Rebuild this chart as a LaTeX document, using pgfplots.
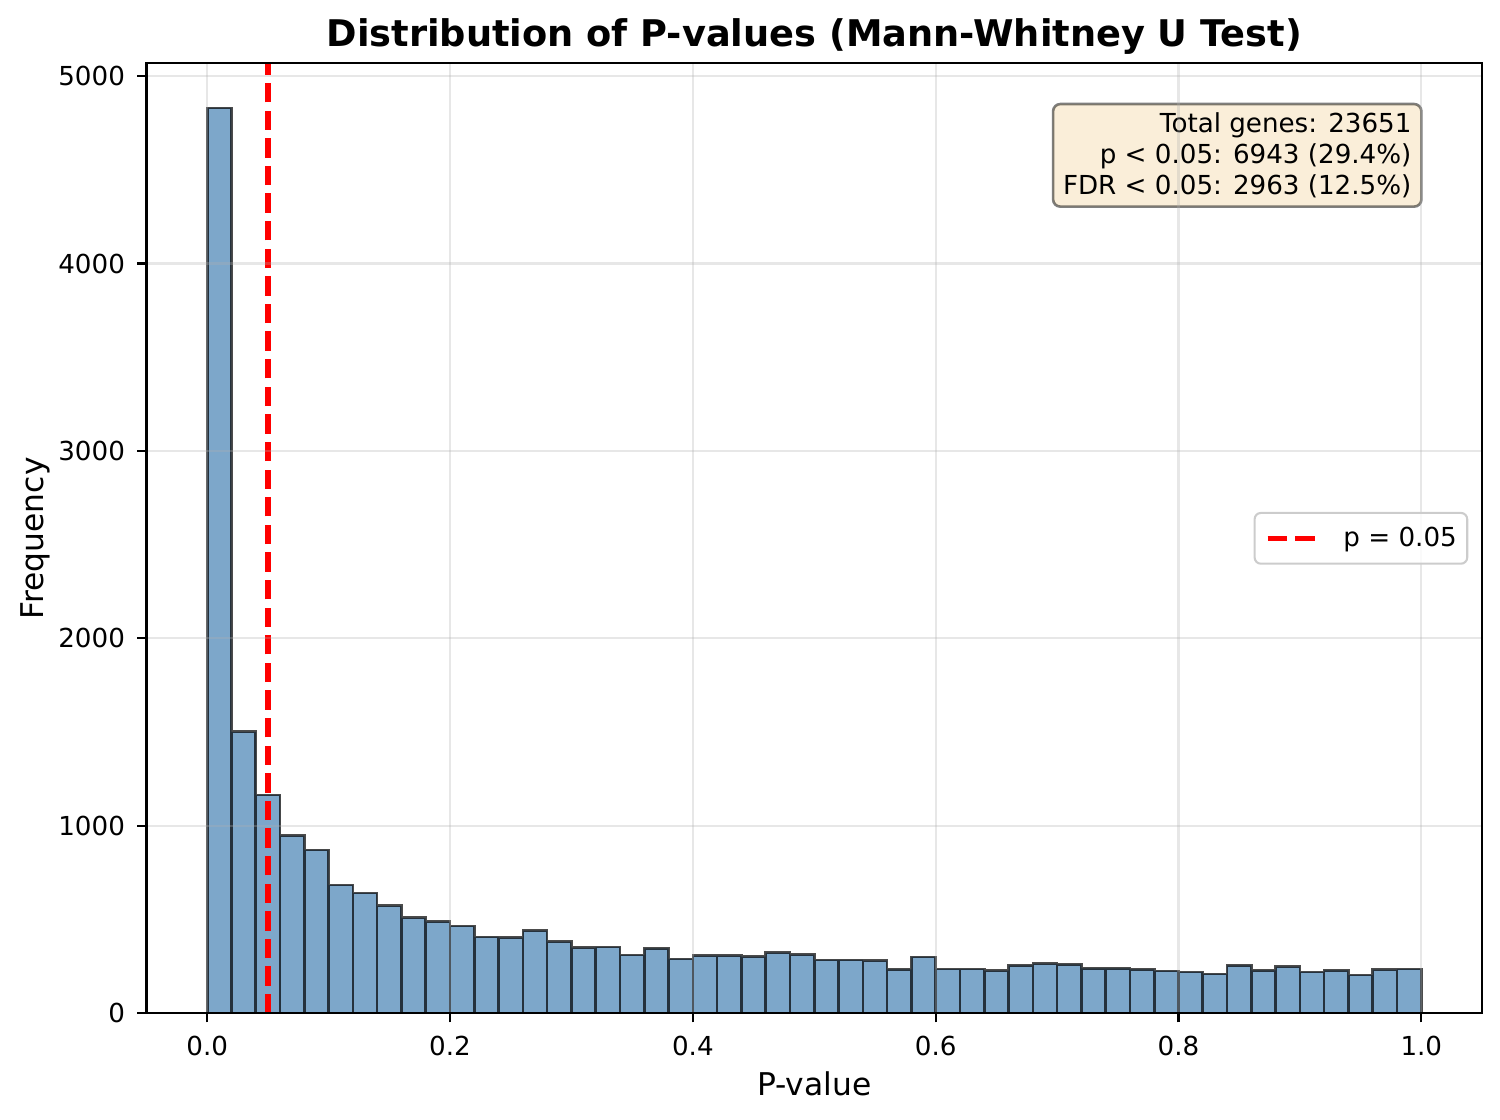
\documentclass[border=0pt]{standalone}
\usepackage{fontspec}
\setmainfont{DejaVu Sans}
\usepackage{pgfplots}
\usepackage{pgfplotstable}
\pgfplotsset{compat=1.18}

\definecolor{steelblue}{RGB}{70,130,180}
\definecolor{wheat}{RGB}{245,222,179}
\definecolor{gridgray}{RGB}{176,176,176}
\definecolor{legedge}{RGB}{204,204,204}

\pgfplotstableread{
x y
0.00 4830
0.02 1502
0.04 1165
0.06 948
0.08 872
0.10 684
0.12 641
0.14 574
0.16 510
0.18 489
0.20 466
0.22 408
0.24 404
0.26 441
0.28 383
0.30 351
0.32 354
0.34 311
0.36 347
0.38 290
0.40 308
0.42 308
0.44 303
0.46 324
0.48 313
0.50 285
0.52 285
0.54 281
0.56 235
0.58 301
0.60 236
0.62 236
0.64 228
0.66 256
0.68 265
0.70 261
0.72 240
0.74 240
0.76 235
0.78 226
0.80 220
0.82 210
0.84 256
0.86 229
0.88 249
0.90 220
0.92 229
0.94 204
0.96 233
0.98 236
1.00 236
}\bins

\begin{document}
\begin{tikzpicture}
\begin{axis}[
  name=ax, at={(0,0)}, anchor=south west,
  scale only axis, width=643.4pt, height=457.7pt,
  xmin=-0.05, xmax=1.05, ymin=0, ymax=5068,
  xtick={0,0.2,0.4,0.6,0.8,1.0},
  xticklabels={0.0,0.2,0.4,0.6,0.8,1.0},
  ytick={0,1000,2000,3000,4000,5000},
  yticklabels={0,1000,2000,3000,4000,5000},
  tick align=outside, major tick length=4.4pt,
  tick style={black, line width=1pt},
  axis line style={black, line width=1pt},
  xtick pos=bottom, ytick pos=left,
  ticklabel style={font=\fontsize{12.6}{15}\selectfont, inner sep=0pt},
  xticklabel style={anchor=north, yshift=-6.3pt},
  yticklabel style={anchor=east, xshift=-5.8pt},
  grid=major,
  major grid style={draw=gridgray, draw opacity=0.3, line width=1pt},
  axis on top,
  every axis title shift=0pt,
  title={Distribution of P-values (Mann-Whitney U Test)},
  title style={at={(axis description cs:0.5,1.0175)}, anchor=base, inner sep=0pt,
    font=\fontsize{17.7}{21}\selectfont\bfseries},
  xlabel={P-value},
  ylabel={Frequency},
  every axis x label/.style={at={(axis description cs:0.5,-0.0605)}, anchor=north,
    inner sep=0pt, font=\fontsize{15.1}{18}\selectfont},
  every axis y label/.style={at={(axis description cs:-0.0723,0.5)}, anchor=south,
    rotate=90, inner sep=0pt, font=\fontsize{15.1}{18}\selectfont},
  legend style={at={(axis description cs:0.9897,0.5)}, anchor=east,
    draw=legedge, line width=1pt, rounded corners=3pt,
    fill=white, fill opacity=0.8, text opacity=1,
    inner xsep=5pt, inner ysep=6.8pt,
    column sep=12pt,
    nodes={inner sep=0pt, font=\fontsize{12.6}{15}\selectfont}},
  legend image code/.code={\draw[#1] (0pt,0pt) -- (23.3pt,0pt);},
]
\addplot[ybar interval, fill=steelblue, fill opacity=0.7, draw=black, draw opacity=0.7,
  line width=1.25pt, forget plot] table[x=x, y=y] {\bins};
\addplot[red, line width=2.5pt, dash pattern=on 9.3pt off 4pt] coordinates {(0.05,0) (0.05,5068)};
\addlegendentry{p = 0.05}
\node[anchor=north east, align=right, draw=black, draw opacity=0.5, line width=1.25pt,
  fill=wheat, fill opacity=0.5, text opacity=1, rounded corners=3.5pt,
  inner xsep=4.8pt, inner ysep=4.3pt, font=\fontsize{12.6}{14.8}\selectfont]
  at (rel axis cs:0.9556,0.9585)
  {Total genes: 23651\\p < 0.05: 6943 (29.4\%)\\FDR < 0.05: 2963 (12.5\%)};
\end{axis}
\pgfresetboundingbox
\path[use as bounding box] ([shift={(-70.58pt,-50.92pt)}]ax.south west) rectangle ([shift={(8.67pt,30.5pt)}]ax.north east);
\end{tikzpicture}
\end{document}
